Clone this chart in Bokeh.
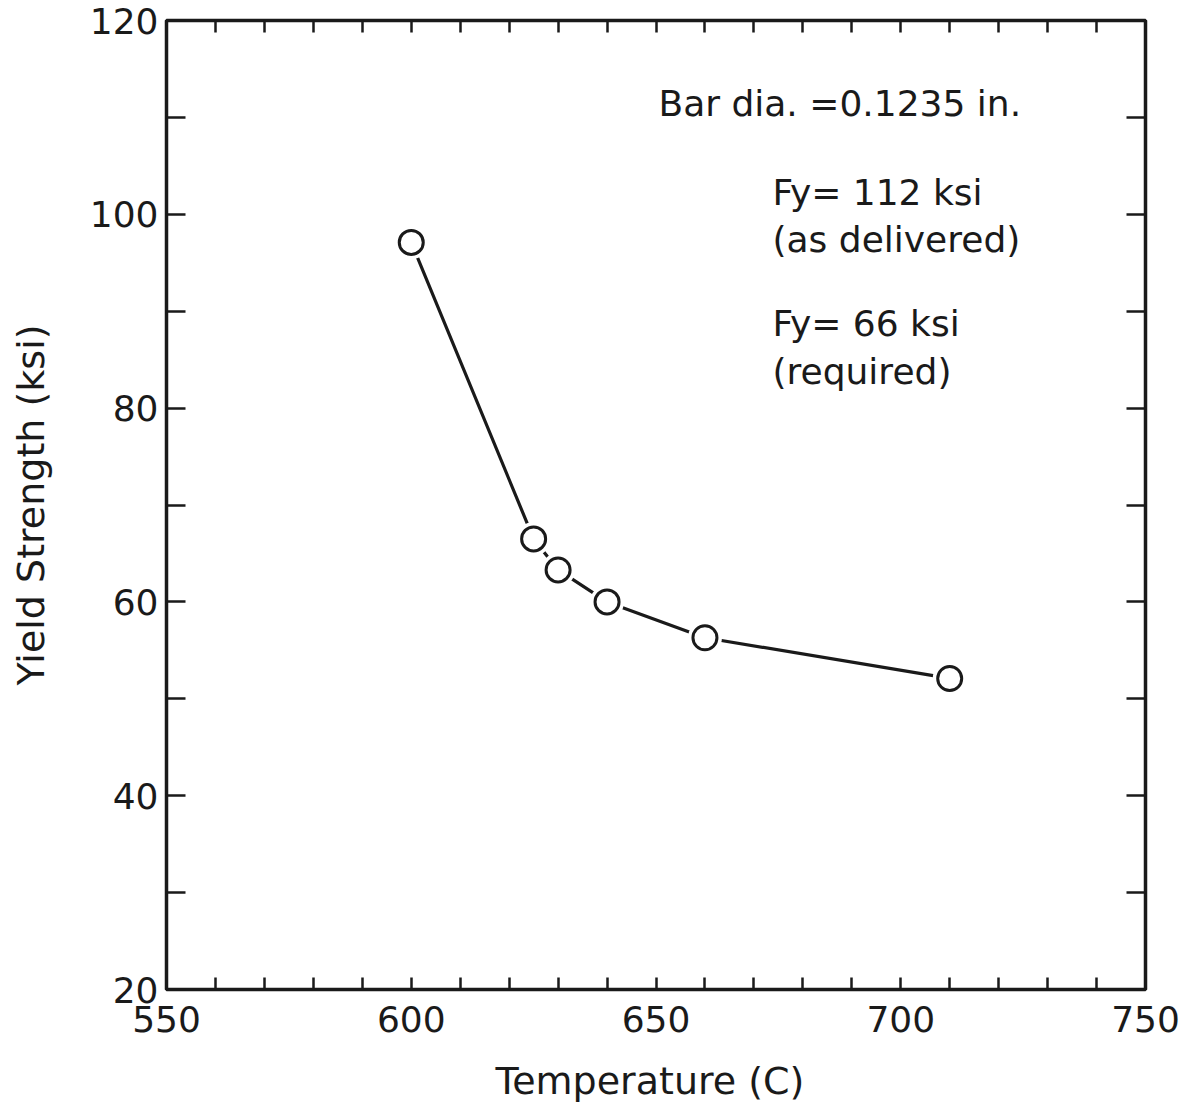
from bokeh.plotting import figure
from bokeh.models import (LinearAxis, Range1d, FixedTicker, Label, CustomJSTickFormatter, ColumnDataSource)
from bokeh.embed import file_html
from bokeh.resources import INLINE

# Data
temperature = [600, 625, 630, 640, 660, 710]
yield_strength = [97.1, 66.5, 63.3, 60.0, 56.3, 52.1]

x_major = [550, 600, 650, 700, 750]
x_minor = [560, 570, 580, 590, 610, 620, 630, 640, 660, 670, 680, 690, 710, 720, 730, 740]
y_major = [20, 40, 60, 80, 100, 120]
y_minor = [30, 50, 70, 90, 110]

notes = ["Bar dia. =0.1235 in.", "Fy= 112 ksi", "(as delivered)", "Fy= 66 ksi", "(required)"]
notes_x = [650.5, 673.8, 673.8, 673.8, 673.8]
notes_y = [111.4, 102.3, 97.4, 88.7, 83.8]

FONT = "DejaVu Sans"
INK = "#1a1a1a"

p = figure(width=1184, height=1105, output_backend="svg", toolbar_location=None,
           x_range=Range1d(550, 750), y_range=Range1d(20, 120),
           x_axis_location=None, y_axis_location=None,
           min_border_left=166, min_border_right=39, min_border_top=20, min_border_bottom=116)
p.grid.visible = False
p.outline_line_color = INK
p.outline_line_width = 3.5
p.background_fill_color = "white"
p.border_fill_color = "white"

def make_axis(loc, major, minor, labels):
    ax = LinearAxis(ticker=FixedTicker(ticks=major, minor_ticks=minor))
    ax.axis_line_color = None
    ax.major_tick_out = 0
    ax.minor_tick_out = 0
    ax.major_tick_line_color = INK
    ax.minor_tick_line_color = INK
    ax.major_tick_line_width = 2.5
    ax.minor_tick_line_width = 2.5
    if loc in ("left", "right"):
        ax.major_tick_in = 19
        ax.minor_tick_in = 19
    else:
        ax.major_tick_in = 12
        ax.minor_tick_in = 12
    if not labels:
        ax.formatter = CustomJSTickFormatter(code="return ''")
        ax.major_label_standoff = 0
    else:
        ax.major_label_text_font = FONT
        ax.major_label_text_font_size = "36px"
        ax.major_label_text_color = INK
    p.add_layout(ax, loc)
    return ax

xb = make_axis("below", x_major, x_minor, True)
xb.major_label_standoff = 16
xb.axis_label = "Temperature  (C)"
xb.axis_label_text_font = FONT
xb.axis_label_text_font_size = "38px"
xb.axis_label_text_font_style = "normal"
xb.axis_label_text_color = INK
xb.axis_label_standoff = 24

yl = make_axis("left", y_major, y_minor, True)
yl.major_label_standoff = 8
yl.axis_label = "Yield Strength (ksi)"
yl.axis_label_text_font = FONT
yl.axis_label_text_font_size = "38px"
yl.axis_label_text_font_style = "normal"
yl.axis_label_text_color = INK
yl.axis_label_standoff = 34

make_axis("above", x_major, x_minor, False)
make_axis("right", y_major, y_minor, False)

src = ColumnDataSource(dict(x=temperature, y=yield_strength))
p.line("x", "y", source=src, line_color=INK, line_width=3.2)
p.scatter("x", "y", source=src, marker="circle", size=34, fill_color="white", line_color=None)
p.scatter("x", "y", source=src, marker="circle", size=24, fill_color="white",
          line_color=INK, line_width=3)

for t, x, y in zip(notes, notes_x, notes_y):
    p.add_layout(Label(x=x, y=y, text=t, text_font=FONT, text_font_size="36px",
                       text_color=INK, text_baseline="middle", text_align="left"))

open("out.html", "w").write(file_html(p, INLINE))
